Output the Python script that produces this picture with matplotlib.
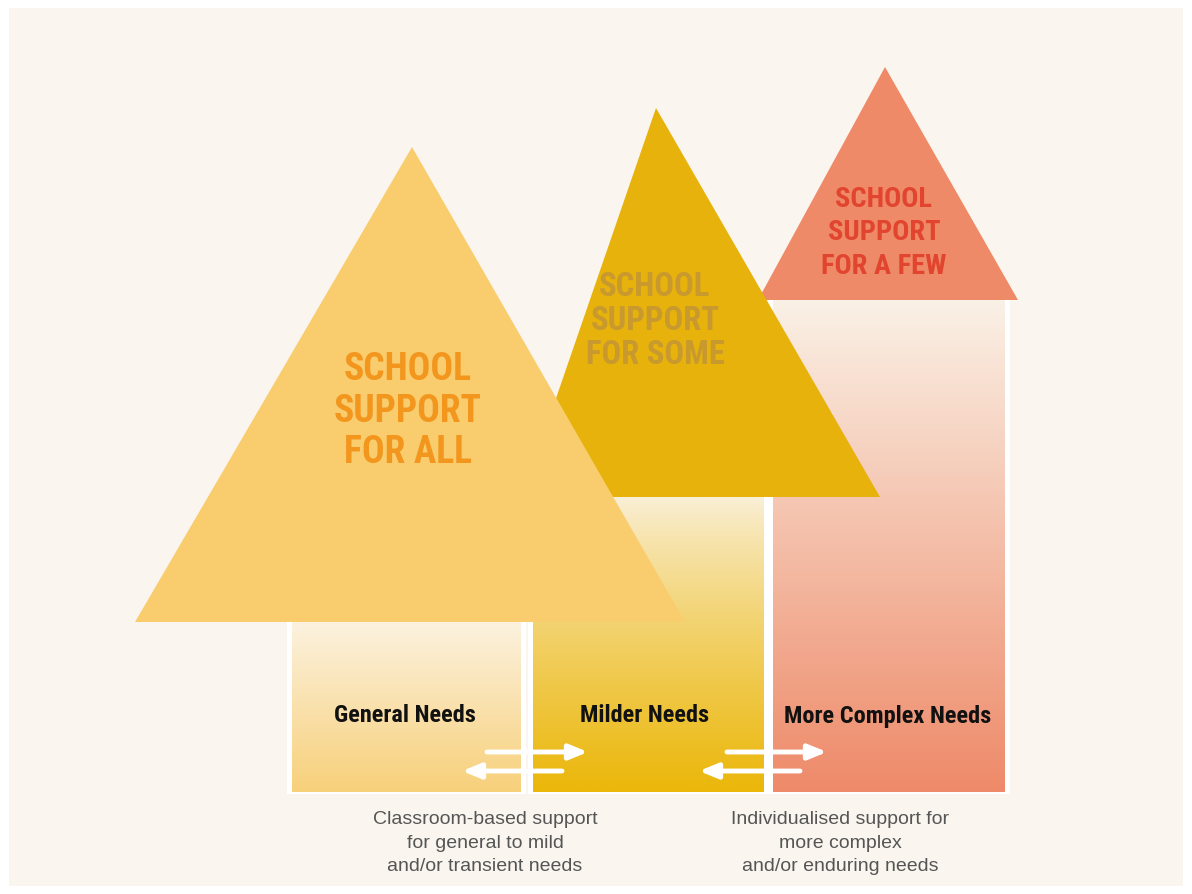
import numpy as np
import matplotlib
matplotlib.use('Agg')
import matplotlib.pyplot as plt
from matplotlib.patches import Polygon, Rectangle
from matplotlib.colors import to_rgb
from matplotlib import font_manager

# tiers: left to right
tier_titles = ['SCHOOL\nSUPPORT\nFOR ALL', 'SCHOOL\nSUPPORT\nFOR SOME', 'SCHOOL\nSUPPORT\nFOR A FEW']
need_labels = ['General Needs', 'Milder Needs', 'More Complex Needs']
captions = ['Classroom-based support\nfor general to mild\nand/or transient needs',
            'Individualised support for\nmore complex\nand/or enduring needs']

# geometry (pixels, y down)
tri_apex = [(412, 147), (656, 108), (885, 67)]
tri_base_y = [622, 497, 300]
tri_base_x = [(135, 685), (522, 880), (758, 1018)]
box_x = [(292, 521), (533, 764), (773, 1005)]
box_bottom = 792
title_xy = [(408, 411), (655, 321), (884, 233)]
title_size = [27, 23.5, 20.5]
title_ls = [1.15, 1.1, 1.32]

tri_col = ['#F9CD6E', '#E6B20B', '#EF8A68']
title_col = ['#F2961E', '#C8992E', '#E2452F']
box_top_col = ['#FCF2DF', '#FAF0DA', '#FAF1E6']
box_bot_col = ['#F7D07A', '#EBB70A', '#EE8A69']
box_gamma = [1.0, 0.8, 1.0]

names = {f.name for f in font_manager.fontManager.ttflist}
narrow = [n for n in ['Roboto Condensed', 'Liberation Sans Narrow', 'Roboto'] if n in names] + ['DejaVu Sans']

fig = plt.figure(figsize=(11.92, 8.94), dpi=100)
fig.patch.set_facecolor('white')
ax = fig.add_axes([0, 0, 1, 1])
ax.set_xlim(0, 1192)
ax.set_ylim(894, 0)
ax.axis('off')

ax.add_patch(Rectangle((9, 8), 1174, 878, facecolor='#FAF6EF', edgecolor='none', zorder=0))

def grad_box(x0, x1, y0, y1, c0, c1, g, z):
    n = 256
    t = np.linspace(0, 1, n)[:, None] ** g
    a = np.array(to_rgb(c0)); b = np.array(to_rgb(c1))
    img = (a[None, None, :] * (1 - t[:, :, None]) + b[None, None, :] * t[:, :, None])
    img = np.repeat(img, 2, axis=1)
    ax.imshow(img, extent=(x0, x1, y1, y0), aspect='auto', zorder=z, interpolation='bilinear')

# draw order: right tier first, then middle, then left
order = [2, 1, 0]
for k, i in enumerate(order):
    z = 2 + k * 3
    x0, x1 = box_x[i]
    y0 = tri_base_y[i]
    # white backing
    ax.add_patch(Rectangle((x0 - 5, y0), x1 - x0 + 10, box_bottom - y0 + 2,
                           facecolor='white', edgecolor='none', zorder=z))
    grad_box(x0, x1, y0, box_bottom, box_top_col[i], box_bot_col[i], box_gamma[i], z + 0.5)
    tri = [tri_apex[i], (tri_base_x[i][1], tri_base_y[i]), (tri_base_x[i][0], tri_base_y[i])]
    ax.add_patch(Polygon(tri, closed=True, facecolor=tri_col[i], edgecolor='none', zorder=z + 1))
    ax.text(title_xy[i][0], title_xy[i][1], tier_titles[i], ha='center', va='center',
            fontsize=title_size[i], fontweight='black', color=title_col[i],
            family=narrow, linespacing=title_ls[i], zorder=z + 1.5)

# need labels
label_x = [405, 645, 888]
for i in range(3):
    ax.text(label_x[i], 716, need_labels[i], ha='center', va='center',
            fontsize=17.5, fontweight='black', color='#111111', family=narrow, zorder=20)

# arrows between tiers
arrows = [((487, 752), (588, 752)), ((562, 771), (462, 771)),
          ((727, 752), (827, 752)), ((800, 771), (699, 771))]
for s, e in arrows:
    ax.annotate('', xy=e, xytext=s,
                arrowprops=dict(arrowstyle='-|>,head_length=1.1,head_width=0.45',
                                color='white', lw=3.5, shrinkA=0, shrinkB=0),
                zorder=21)

cap_x = [485, 840]
for i in range(2):
    ax.text(cap_x[i], 843, captions[i], ha='center', va='center', fontsize=14,
            color='#555555', family=['Liberation Sans', 'DejaVu Sans'],
            linespacing=1.5, zorder=20)

fig.savefig('out.png', dpi=100, facecolor=fig.get_facecolor())
